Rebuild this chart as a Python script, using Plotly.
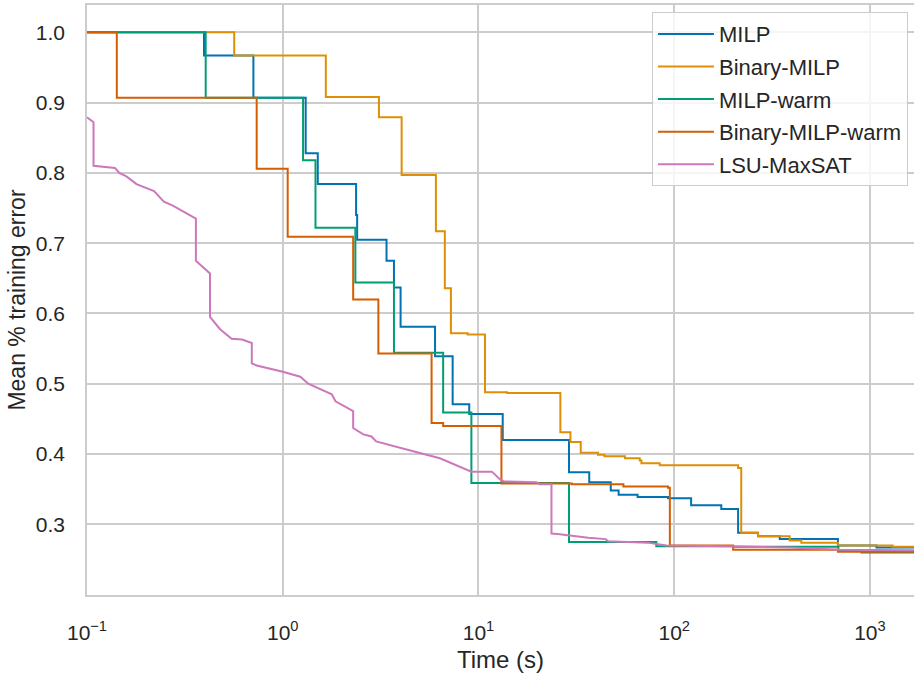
import plotly.graph_objects as go

# Anytime curves: (time in seconds, mean % training error) at each improvement
milp_t = [0.1, 0.396, 0.708, 1.31, 1.51, 2.37, 2.40, 3.39, 3.70, 4.0, 6.0, 7.38, 8.97,
          13.3, 29, 36.8, 47.4, 52, 65, 93, 122, 174, 212, 268, 346, 686, 1080, 1700]
milp_v = [1.0, 0.967, 0.907, 0.828, 0.784, 0.740, 0.705, 0.675, 0.637, 0.581, 0.539, 0.471, 0.457,
          0.420, 0.374, 0.360, 0.348, 0.342, 0.339, 0.337, 0.327, 0.322, 0.288, 0.283, 0.279, 0.270, 0.267, 0.266]

bmilp_t = [0.1, 0.565, 1.66, 3.10, 4.05, 6.06, 6.73, 7.23, 8.8, 10.8, 14, 26.2, 29.5, 33.3,
           40.8, 44, 56, 66.7, 68, 84.3, 212, 220, 268, 389, 446, 686, 1306, 1700]
bmilp_v = [1.0, 0.967, 0.908, 0.879, 0.797, 0.717, 0.636, 0.572, 0.570, 0.488, 0.487, 0.431, 0.417, 0.402,
           0.399, 0.397, 0.394, 0.391, 0.387, 0.384, 0.380, 0.288, 0.283, 0.277, 0.274, 0.270, 0.268, 0.268]

milpw_t = [0.1, 0.404, 1.27, 1.47, 2.35, 3.70, 6.6, 9.2, 29, 81, 200, 690, 905, 1700]
milpw_v = [1.0, 0.907, 0.818, 0.722, 0.644, 0.544, 0.459, 0.359, 0.275, 0.269, 0.268, 0.262, 0.260, 0.259]

bmilpw_t = [0.1, 0.142, 0.736, 1.06, 2.29, 3.08, 5.76, 6.6, 13.1, 30, 55, 93, 95, 200, 686, 1700]
bmilpw_v = [1.0, 0.907, 0.806, 0.709, 0.620, 0.543, 0.444, 0.440, 0.358, 0.357, 0.354, 0.352, 0.270, 0.264, 0.261, 0.260]

lsu_t = [0.1, 0.108, 0.108, 0.139, 0.146, 0.159, 0.179, 0.220, 0.247, 0.276, 0.360, 0.360,
         0.425, 0.425, 0.477, 0.548, 0.62, 0.695, 0.695, 0.736, 1.0, 1.23, 1.35, 1.78, 1.86,
         2.29, 2.29, 2.58, 2.84, 3.0, 4.64, 6.35, 9.2, 11.7, 12.9, 13.5, 19.8, 20.5, 23.6, 23.6,
         26, 31.7, 36.4, 44.6, 46, 73, 91.5, 190, 390, 700, 1700]
lsu_v = [0.879, 0.872, 0.810, 0.807, 0.800, 0.795, 0.784, 0.774, 0.759, 0.753, 0.735, 0.675,
         0.657, 0.595, 0.578, 0.564, 0.563, 0.558, 0.529, 0.526, 0.517, 0.510, 0.500, 0.485, 0.475,
         0.461, 0.437, 0.428, 0.425, 0.418, 0.404, 0.394, 0.375, 0.375, 0.364, 0.361, 0.360, 0.357, 0.357, 0.287,
         0.286, 0.283, 0.281, 0.279, 0.276, 0.274, 0.270, 0.269, 0.267, 0.264, 0.263]

series = [
    ("MILP", milp_t, milp_v, "#0173B2", "hv"),
    ("Binary-MILP", bmilp_t, bmilp_v, "#DE8F05", "hv"),
    ("MILP-warm", milpw_t, milpw_v, "#029E73", "hv"),
    ("Binary-MILP-warm", bmilpw_t, bmilpw_v, "#D55E00", "hv"),
    ("LSU-MaxSAT", lsu_t, lsu_v, "#CC78BC", "linear"),
]

x_ticks = [0.1, 1, 10, 100, 1000]
x_ticktext = ["10<sup>\u22121</sup>", "10<sup>0</sup>", "10<sup>1</sup>", "10<sup>2</sup>", "10<sup>3</sup>"]
y_ticks = [0.3, 0.4, 0.5, 0.6, 0.7, 0.8, 0.9, 1.0]
y_ticktext = ["0.3", "0.4", "0.5", "0.6", "0.7", "0.8", "0.9", "1.0"]

fig = go.Figure()
for name, t, v, color, shape in series:
    fig.add_trace(go.Scatter(x=t, y=v, mode="lines", name=name, legendgroup=name,
                             line=dict(color=color, width=2, shape=shape)))

font_family = "Liberation Sans, Arial, sans-serif"
grid = "#cccccc"

fig.update_layout(
    width=914, height=678,
    margin=dict(l=87, r=0, t=5, b=83),
    paper_bgcolor="white", plot_bgcolor="white",
    font=dict(family=font_family, color="#262626", size=21),
    legend=dict(x=0.9927, xanchor="right", y=0.988, yanchor="top",
                bgcolor="rgba(255,255,255,0.8)", bordercolor=grid, borderwidth=1,
                font=dict(size=22, color="#262626"), itemwidth=56, tracegroupgap=1),
    showlegend=True,
)
fig.update_xaxes(
    type="log", range=[-1, 3.225],
    tickvals=x_ticks, ticktext=x_ticktext, tickfont=dict(size=21),
    showgrid=True, gridcolor=grid, gridwidth=1.5,
    showline=True, linecolor=grid, linewidth=1.5, mirror=True,
    ticks="", ticklabelstandoff=18,
    title=dict(text="Time (s)", font=dict(size=24), standoff=8),
    zeroline=False,
)
fig.update_yaxes(
    range=[0.1995, 1.0388],
    tickvals=y_ticks, ticktext=y_ticktext, tickfont=dict(size=21),
    showgrid=True, gridcolor=grid, gridwidth=1.5,
    showline=True, linecolor=grid, linewidth=1.5,
    ticks="", ticklabelstandoff=16,
    title=dict(text="Mean % training error", font=dict(size=23), standoff=4),
    zeroline=False,
)

fig.write_html("out.html")
